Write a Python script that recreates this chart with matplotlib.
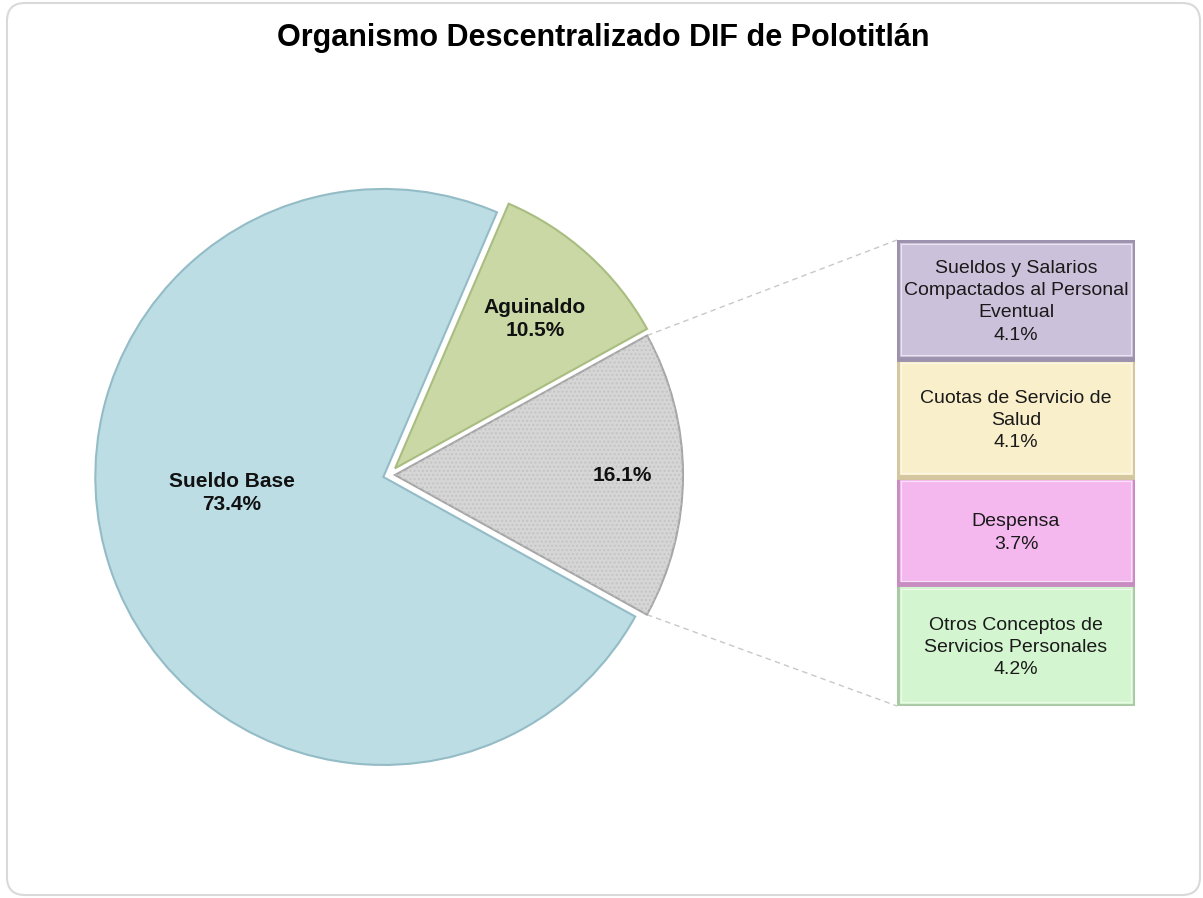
import numpy as np
import matplotlib
matplotlib.use("Agg")
import matplotlib.pyplot as plt
from matplotlib.patches import FancyBboxPatch

# pie data (counter-clockwise from the "other" slice)
pie_names = ["", "Aguinaldo", "Sueldo Base"]
pie_values = [16.1, 10.5, 73.4]
pie_colors = ["#d6d6d6", "#c9d8a5", "#bcdde4"]
pie_edges = ["#a6a6a6", "#a9bd80", "#94bcc7"]

# breakdown of the grey slice, bottom to top
bar_names = ["Otros Conceptos de\nServicios Personales", "Despensa",
             "Cuotas de Servicio de\nSalud",
             "Sueldos y Salarios\nCompactados al Personal\nEventual"]
bar_values = [4.2, 3.7, 4.1, 4.1]
bar_colors = ["#d3f5cf", "#f4b8ee", "#f9efca", "#ccc1da"]
bar_edges = ["#a9c9a5", "#c98cc2", "#d4c79f", "#9d92ad"]

W, H = 1203, 898
fig = plt.figure(figsize=(W / 100, H / 100), dpi=100)
ax = fig.add_axes([0, 0, 1, 1])

# rounded frame
frame = FancyBboxPatch((7, 3), 1193, 892, boxstyle="round,pad=0,rounding_size=18",
                       fc="white", ec="#d9d9d9", lw=1.5, zorder=0)
ax.add_patch(frame)

cx, cy, r = 389, H - 475, 288
wedges, _ = ax.pie(pie_values, colors=pie_colors, startangle=-29, counterclock=True,
                   center=(cx, cy), radius=r, explode=[6, 9, 6], frame=True,
                   wedgeprops=dict(lw=1.5))
for w, ec in zip(wedges, pie_edges):
    w.set_edgecolor(ec)
    w.set_zorder(2)

# dotted texture on the grey slice
g = wedges[0]
ax.pie([pie_values[0], 100 - pie_values[0]], startangle=-29, counterclock=True,
       center=g.center, radius=r, frame=True,
       colors=["none", "none"],
       wedgeprops=dict(lw=0, hatch="....", edgecolor="#c4c4c4"))
for p in ax.patches[-2:]:
    p.set_zorder(3)
ax.patches[-1].remove()

# slice labels
label_pos = [(0.0, 0.79), (None, 0.71), (186.0, 0.53)]
for w, name, val, (ang, d) in zip(wedges, pie_names, pie_values, label_pos):
    if ang is None:
        ang = (w.theta1 + w.theta2) / 2 - 1
    x = w.center[0] + d * r * np.cos(np.radians(ang))
    y = w.center[1] + d * r * np.sin(np.radians(ang))
    txt = f"{name}\n{val:.1f}%" if name else f"{val:.1f}%"
    ax.text(x, y, txt, ha="center", va="center", fontsize=15, fontweight="bold",
            family="Liberation Sans", color="#111111", zorder=5, linespacing=1.25)

# bar of the grey slice
bx, bw, btop, bbot = 897, 238, H - 240, H - 706
ax_bar = fig.add_axes([bx / W, bbot / H, bw / W, (btop - bbot) / H])
bottom = 0
for name, val, col, ec in zip(bar_names, bar_values, bar_colors, bar_edges):
    ax_bar.bar(0.5, val, width=1, bottom=bottom, color=col, edgecolor=ec, lw=3.5)
    ax_bar.bar(0.5, val * 0.93, width=0.965, bottom=bottom + val * 0.035, color="none",
               edgecolor="white", lw=0.8, alpha=0.6)
    ax_bar.text(0.5, bottom + val * 0.48, f"{name}\n{val:.1f}%", ha="center", va="center",
                fontsize=14, family="Liberation Sans", color="#1a1a1a", linespacing=1.4)
    bottom += val
ax_bar.set_xlim(0, 1)
ax_bar.set_ylim(0, sum(bar_values))
ax_bar.axis("off")

# connector lines from the grey slice to the bar
for ang, ytarget in [(g.theta2, btop), (g.theta1, bbot)]:
    x0 = g.center[0] + r * np.cos(np.radians(ang))
    y0 = g.center[1] + r * np.sin(np.radians(ang))
    ax.plot([x0, bx], [y0, ytarget], ls=(0, (4, 3)), color="#c8c8c8", lw=1, zorder=1)

ax.text(W / 2 + 2, H - 38, "Organismo Descentralizado DIF de Polotitlán", ha="center",
        va="center", fontsize=22, fontweight="bold", family="Liberation Sans")

ax.set_xlim(0, W)
ax.set_ylim(0, H)
ax.set_aspect("equal")
ax.axis("off")

fig.savefig("out.png", dpi=100)
